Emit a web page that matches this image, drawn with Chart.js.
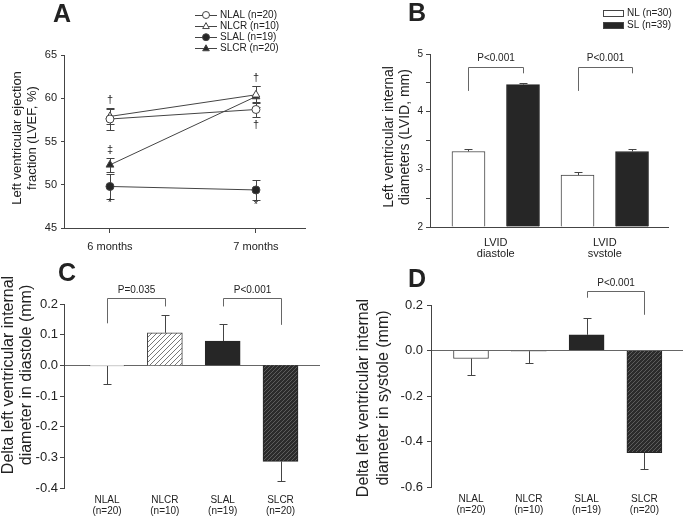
<!DOCTYPE html>
<html>
<head>
<meta charset="utf-8">
<script src="https://cdn.jsdelivr.net/npm/chart.js@4.4.0/dist/chart.umd.min.js"></script>
<style>
  html, body { margin: 0; padding: 0; background: #fff; }
  #wrap { position: relative; width: 685px; height: 519px; }
  canvas { position: absolute; left: 0; top: 0; }
</style>
</head>
<body>
<div id="wrap">
  <canvas id="chartA" width="685" height="519"></canvas>
  <canvas id="chartB" width="685" height="519"></canvas>
  <canvas id="chartC" width="685" height="519"></canvas>
  <canvas id="chartD" width="685" height="519"></canvas>
</div>
<script>
// ---- data ----
// A: LVEF at two time points
const timepoints = ['6 months', '7 months'];
const lvefGroups = ['NLAL (n=20)', 'NLCR (n=10)', 'SLAL (n=19)', 'SLCR (n=20)'];
const lvefNLAL = [57.6, 58.7];
const lvefNLCR = [57.9, 60.4];
const lvefSLAL = [49.8, 49.4];
const lvefSLCR = [52.3, 60.2];
const lvefErrNLAL = [1.3, 0.9];
const lvefErrNLCR = [0.9, 1.0];
const lvefErrSLAL = [1.4, 1.2];
const lvefErrSLCR = [0.85, 1.2];
const lvefSymbols = ['†', '‡', '*', '†', '†', '*'];
const lvefSymbolTime = [0, 0, 0, 1, 1, 1];
const lvefSymbolAt = [59.8, 54.0, 47.9, 62.3, 56.9, 47.7];

// B: LVID
const lvidLabels = [['LVID', 'diastole'], ['LVID', 'systole']];
const lvidSeries = ['NL (n=30)', 'SL (n=39)'];
const lvidNL = [3.31, 2.90];
const lvidSL = [4.47, 3.31];
const lvidErrNL = [0.045, 0.055];
const lvidErrSL = [0.035, 0.045];
const lvidP = ['P<0.001', 'P<0.001'];

// C, D: deltas
const groups = ['NLAL', 'NLCR', 'SLAL', 'SLCR'];
const groupN = ['(n=20)', '(n=10)', '(n=19)', '(n=20)'];
const deltaDia = [-0.002, 0.106, 0.079, -0.313];
const deltaDiaErr = [0.058, 0.058, 0.056, 0.064];
const deltaDiaP = ['P=0.035', 'P<0.001'];
const deltaSys = [-0.035, -0.003, 0.069, -0.449];
const deltaSysErr = [0.072, 0.053, 0.074, 0.073];
const deltaSysP = ['P<0.001'];

// ---- styles ----
const FONT = "'Liberation Sans', Arial, sans-serif";
const INK = '#222';
const LINE = '#444';
const SOFT = '#666';
const DARK = '#262626';

function hatch(bg, fg, step) {
  const c = document.createElement('canvas');
  c.width = step; c.height = step;
  const g = c.getContext('2d');
  g.fillStyle = bg; g.fillRect(0, 0, step, step);
  g.strokeStyle = fg; g.lineWidth = 1;
  g.beginPath();
  g.moveTo(0, step); g.lineTo(step, 0);
  g.moveTo(-1, 1); g.lineTo(1, -1);
  g.moveTo(step - 1, step + 1); g.lineTo(step + 1, step - 1);
  g.stroke();
  return g.createPattern(c, 'repeat');
}
const hatchLight = hatch('#fff', '#777', 5);
const hatchDark = hatch('#2b2b2b', '#5c5c5c', 4);

// ---- plugins ----
function drawErrors(chart, opts) {
  const ctx = chart.ctx, ys = chart.scales.y, half = opts.cap / 2;
  ctx.save();
  ctx.strokeStyle = LINE;
  ctx.lineWidth = 1;
  chart.data.datasets.forEach((ds, i) => {
    if (!ds.errors) return;
    chart.getDatasetMeta(i).data.forEach((el, j) => {
      const v = ds.data[j].y, e = ds.errors[j];
      const ends = opts.both ? [v - e, v + e] : [v < 0 ? v - e : v + e];
      const x = Math.round(el.x) + 0.5;
      ends.forEach(end => {
        const y0 = ys.getPixelForValue(v);
        const y1 = Math.round(ys.getPixelForValue(end)) + 0.5;
        ctx.beginPath();
        ctx.moveTo(x, y0); ctx.lineTo(x, y1);
        ctx.moveTo(x - half, y1); ctx.lineTo(x + half, y1);
        ctx.stroke();
      });
    });
  });
  ctx.restore();
}

const errorBars = {
  id: 'errorBars',
  beforeDatasetsDraw(chart, args, opts) { if (opts.under) drawErrors(chart, opts); },
  afterDatasetsDraw(chart, args, opts) { if (!opts.under) drawErrors(chart, opts); }
};

function marker(ctx, style, x, y, r, fill) {
  ctx.beginPath();
  if (style === 'circle') {
    ctx.arc(x, y, r, 0, Math.PI * 2);
  } else {
    ctx.moveTo(x, y - r);
    ctx.lineTo(x + r * 0.95, y + r * 0.7);
    ctx.lineTo(x - r * 0.95, y + r * 0.7);
    ctx.closePath();
  }
  ctx.fillStyle = fill;
  ctx.fill();
  ctx.strokeStyle = LINE;
  ctx.stroke();
}

const annot = {
  id: 'annot',
  afterDraw(chart, args, o) {
    const ctx = chart.ctx, xs = chart.scales.x, ys = chart.scales.y;
    ctx.save();
    ctx.fillStyle = INK;
    if (o.letter) {
      ctx.font = 'bold 25px ' + FONT;
      ctx.textAlign = 'left';
      ctx.textBaseline = 'alphabetic';
      ctx.fillText(o.letter[0], o.letter[1], o.letter[2]);
    }
    if (o.yTitle) {
      ctx.font = o.yTitle.size + 'px ' + FONT;
      ctx.textAlign = 'center';
      ctx.textBaseline = 'middle';
      o.yTitle.lines.forEach((line, i) => {
        ctx.save();
        ctx.translate(o.yTitle.x[i], o.yTitle.y);
        ctx.rotate(-Math.PI / 2);
        ctx.fillText(line, 0, 0);
        ctx.restore();
      });
    }
    if (o.symbols) {
      ctx.font = '11px ' + FONT;
      ctx.textAlign = 'center';
      ctx.textBaseline = 'middle';
      lvefSymbols.forEach((s, i) => {
        ctx.fillText(s, xs.getPixelForValue(lvefSymbolTime[i] + 1), ys.getPixelForValue(lvefSymbolAt[i]));
      });
    }
    (o.brackets || []).forEach(b => {
      const x0 = Math.round(xs.getPixelForValue(b.from)) + 0.5;
      const x1 = Math.round(xs.getPixelForValue(b.to)) + 0.5;
      const yt = Math.round(ys.getPixelForValue(b.top)) + 0.5;
      ctx.strokeStyle = SOFT;
      ctx.lineWidth = 1;
      ctx.beginPath();
      ctx.moveTo(x0, ys.getPixelForValue(b.fromEnd));
      ctx.lineTo(x0, yt);
      ctx.lineTo(x1, yt);
      ctx.lineTo(x1, ys.getPixelForValue(b.toEnd));
      ctx.stroke();
      ctx.font = '10px ' + FONT;
      ctx.textAlign = 'center';
      ctx.textBaseline = 'middle';
      ctx.fillText(b.text, (x0 + x1) / 2, ys.getPixelForValue(b.textAt));
    });
    if (o.lineLegend) {
      const styles = ['circle', 'triangle', 'circle', 'triangle'];
      const fills = ['#fff', '#fff', DARK, DARK];
      ctx.font = '10px ' + FONT;
      ctx.textAlign = 'left';
      ctx.textBaseline = 'middle';
      lvefGroups.forEach((g, i) => {
        const y = 15 + i * 11.1;
        ctx.strokeStyle = LINE;
        ctx.lineWidth = 1;
        ctx.beginPath();
        ctx.moveTo(195, Math.round(y) + 0.5);
        ctx.lineTo(217, Math.round(y) + 0.5);
        ctx.stroke();
        marker(ctx, styles[i], 206, y, 3.5, fills[i]);
        ctx.fillStyle = INK;
        ctx.fillText(g, 220, y);
      });
    }
    if (o.boxLegend) {
      const fills = ['#fff', DARK];
      ctx.font = '10px ' + FONT;
      ctx.textAlign = 'left';
      ctx.textBaseline = 'middle';
      lvidSeries.forEach((s, i) => {
        const y = 13 + i * 12;
        ctx.fillStyle = fills[i];
        ctx.fillRect(603, y - 3, 20, 6);
        ctx.strokeStyle = LINE;
        ctx.strokeRect(603.5, y - 2.5, 20, 6);
        ctx.fillStyle = INK;
        ctx.fillText(s, 627, y + 0.5);
      });
    }
    ctx.restore();
  }
};

const common = {
  responsive: false,
  animation: false,
  events: []
};

function font(size, lh) { return { family: FONT, size: size, lineHeight: lh || 1.2 }; }
function fixW(w) { return s => { s.width = w; }; }
function fixH(h) { return s => { s.height = h; }; }
function zeroGrid(v) { return Math.abs(v) < 1e-9; }

// ---- A ----
function lvefSet(label, values, errors, style, fill) {
  return {
    label: label,
    data: values.map((v, i) => ({ x: i + 1, y: v })),
    errors: errors,
    borderColor: LINE, borderWidth: 1,
    pointStyle: style, pointRadius: style === 'triangle' ? 4.5 : 4,
    pointBorderColor: LINE, pointBackgroundColor: fill, pointBorderWidth: 1
  };
}

new Chart(document.getElementById('chartA'), {
  type: 'line',
  data: {
    datasets: [
      lvefSet(lvefGroups[0], lvefNLAL, lvefErrNLAL, 'circle', '#fff'),
      lvefSet(lvefGroups[1], lvefNLCR, lvefErrNLCR, 'triangle', '#fff'),
      lvefSet(lvefGroups[2], lvefSLAL, lvefErrSLAL, 'circle', DARK),
      lvefSet(lvefGroups[3], lvefSLCR, lvefErrSLCR, 'triangle', DARK)
    ]
  },
  options: Object.assign({}, common, {
    layout: { padding: { left: 34, right: 380, top: 55, bottom: 261 } },
    plugins: {
      legend: { display: false }, tooltip: { enabled: false },
      errorBars: { under: true, both: true, cap: 8 },
      annot: {
        letter: ['A', 53, 22],
        yTitle: { lines: ['Left ventricular ejection', 'fraction (LVEF, %)'], x: [17, 32], y: 138, size: 13 },
        symbols: true,
        lineLegend: true
      }
    },
    scales: {
      x: {
        type: 'linear', min: 0.685, max: 2.336, offset: false,
        afterBuildTicks: s => { s.ticks = timepoints.map((t, i) => ({ value: i + 1 })); },
        afterFit: fixH(30),
        ticks: { callback: v => timepoints[v - 1], font: font(11), color: INK, padding: 7, maxRotation: 0, autoSkip: false },
        grid: { drawOnChartArea: false, drawTicks: true, tickLength: 5, color: LINE, tickColor: LINE },
        border: { color: LINE }
      },
      y: {
        min: 45, max: 65,
        afterFit: fixW(30),
        ticks: { stepSize: 5, font: font(11), color: INK, padding: 4 },
        grid: { drawOnChartArea: false, tickLength: 3, color: LINE, tickColor: LINE },
        border: { color: LINE }
      }
    }
  }),
  plugins: [errorBars, annot]
});

// ---- B ----
new Chart(document.getElementById('chartB'), {
  type: 'bar',
  data: {
    datasets: [
      {
        label: lvidSeries[0],
        data: lvidNL.map((v, i) => ({ x: i * 2, y: v })),
        errors: lvidErrNL,
        backgroundColor: '#fff', borderColor: LINE, borderWidth: 1,
        barThickness: 33, base: 2, grouped: false
      },
      {
        label: lvidSeries[1],
        data: lvidSL.map((v, i) => ({ x: i * 2 + 1, y: v })),
        errors: lvidErrSL,
        backgroundColor: DARK, borderColor: DARK, borderWidth: 1,
        barThickness: 33, base: 2, grouped: false
      }
    ]
  },
  options: Object.assign({}, common, {
    layout: { padding: { left: 400, right: 17, top: 54, bottom: 262 } },
    plugins: {
      legend: { display: false }, tooltip: { enabled: false },
      errorBars: { under: false, both: false, cap: 8 },
      annot: {
        letter: ['B', 408, 21],
        yTitle: { lines: ['Left ventricular internal', 'diameters (LVID, mm)'], x: [389, 405], y: 137, size: 14 },
        boxLegend: true,
        brackets: lvidP.map((p, i) => ({ from: i * 2, to: i * 2 + 1, top: 4.77, fromEnd: 4.36, toEnd: 4.665, text: p, textAt: 4.92 }))
      }
    },
    scales: {
      x: {
        type: 'linear', min: -0.706, max: 3.66, offset: false,
        afterBuildTicks: s => { s.ticks = lvidLabels.map((l, i) => ({ value: i * 2 + 0.5 })); },
        afterFit: fixH(30),
        ticks: { callback: v => lvidLabels[(v - 0.5) / 2], font: font(11, 1.0), color: INK, padding: 10, maxRotation: 0, autoSkip: false },
        grid: { display: false, drawTicks: false },
        border: { color: LINE }
      },
      y: {
        min: 2, max: 5,
        afterFit: fixW(30),
        ticks: { stepSize: 0.5, callback: v => Number.isInteger(v) ? v : '', font: font(10), color: INK, padding: 3 },
        grid: { drawOnChartArea: false, tickLength: 4, color: LINE, tickColor: LINE },
        border: { color: LINE }
      }
    }
  }),
  plugins: [errorBars, annot]
});

// ---- C and D ----
function deltaChart(id, values, errors, fills, borders, range, step, pad, xRange, barW, extras) {
  new Chart(document.getElementById(id), {
    type: 'bar',
    data: {
      datasets: [{
        data: values.map((v, i) => ({ x: i, y: v })),
        errors: errors,
        backgroundColor: fills, borderColor: borders, borderWidth: 1,
        barThickness: barW, grouped: false
      }]
    },
    options: Object.assign({}, common, {
      layout: { padding: pad },
      plugins: {
        legend: { display: false }, tooltip: { enabled: false },
        errorBars: { under: false, both: false, cap: 8 },
        annot: extras
      },
      scales: {
        x: {
          type: 'linear', min: xRange[0], max: xRange[1], offset: false,
          afterBuildTicks: s => { s.ticks = groups.map((g, i) => ({ value: i })); },
          afterFit: fixH(30),
          ticks: { callback: v => [groups[v], groupN[v]], font: font(10, 1.1), color: INK, padding: 7, maxRotation: 0, autoSkip: false },
          grid: { display: false, drawTicks: false },
          border: { display: false }
        },
        y: {
          min: range[0], max: range[1],
          afterFit: fixW(30),
          ticks: { stepSize: step, callback: v => zeroGrid(v) ? '0.0' : v.toFixed(1), font: font(13), color: INK, padding: extras.tickPad },
          grid: {
            drawOnChartArea: true, tickLength: 4,
            color: c => (c.tick && zeroGrid(c.tick.value)) ? SOFT : 'rgba(0,0,0,0)',
            tickColor: LINE
          },
          border: { color: LINE }
        }
      }
    }),
    plugins: [errorBars, annot]
  });
}

deltaChart('chartC', deltaDia, deltaDiaErr,
  ['#fff', hatchLight, DARK, hatchDark], [LINE, LINE, DARK, DARK],
  [-0.4, 0.2], 0.1,
  { left: 34, right: 365, top: 304, bottom: 1 },
  [-0.744, 3.683], 35,
  {
    tickPad: 2,
    letter: ['C', 58, 281],
    yTitle: { lines: ['Delta left ventricular internal', 'diameter in diastole (mm)'], x: [9, 27], y: 375, size: 16 },
    brackets: [
      { from: 0, to: 1, top: 0.219, fromEnd: 0.137, toEnd: 0.192, text: deltaDiaP[0], textAt: 0.246 },
      { from: 2, to: 3, top: 0.219, fromEnd: 0.192, toEnd: 0.132, text: deltaDiaP[1], textAt: 0.246 }
    ]
  });

deltaChart('chartD', deltaSys, deltaSysErr,
  ['#fff', '#fff', DARK, hatchDark], [LINE, LINE, DARK, DARK],
  [-0.6, 0.2], 0.2,
  { left: 401, right: 2, top: 305, bottom: 2 },
  [-0.692, 3.668], 35,
  {
    tickPad: 4,
    letter: ['D', 408, 287],
    yTitle: { lines: ['Delta left ventricular internal', 'diameter in systole (mm)'], x: [364, 384], y: 398, size: 16 },
    brackets: [
      { from: 2, to: 3, top: 0.263, fromEnd: 0.232, toEnd: 0.157, text: deltaSysP[0], textAt: 0.294 }
    ]
  });
</script>
</body>
</html>
